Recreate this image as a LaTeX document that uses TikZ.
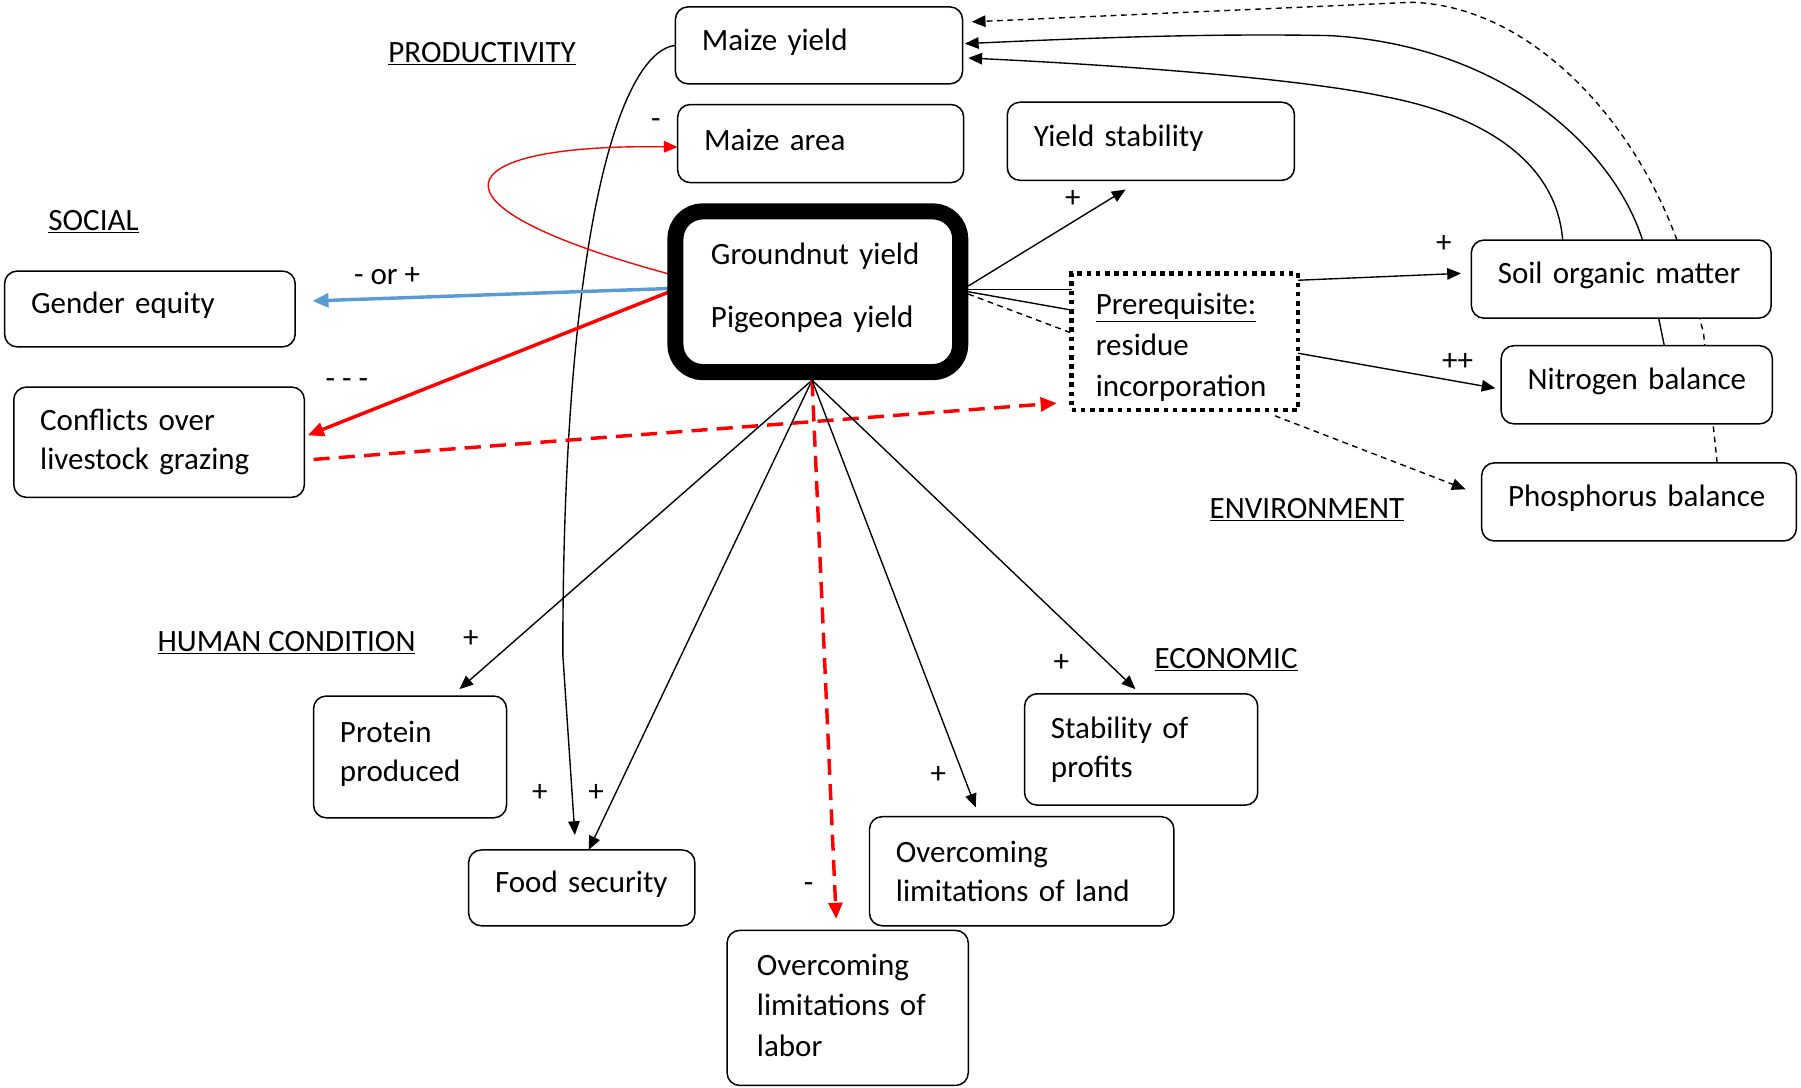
\documentclass[tikz,border=0pt]{standalone}
\usepackage{fontspec}
\setmainfont{Carlito}
\usetikzlibrary{arrows.meta}
\pgfdeclarelayer{bg}
\pgfsetlayers{bg,main}
\definecolor{sblue}{RGB}{91,155,213}
\newcommand\myfont{\fontsize{27}{34}\selectfont\hyphenpenalty=10000}
\newcommand\up[1]{\raisebox{3pt}[\height][\depth]{#1}}
\newcommand\dn[1]{\raisebox{-5pt}[\height][\depth]{#1}}
\begin{document}
\begin{tikzpicture}[x=1pt,y=-1pt,
  every node/.style={font=\myfont},
  box/.style={draw, rounded corners=11pt, line width=1.3pt, fill=white, anchor=north west, outer sep=0pt, inner xsep=23pt, inner ysep=0pt, align=left},
  lbl/.style={inner sep=0pt},
  cat/.style={inner sep=0pt, anchor=base west},
  ln/.style={line width=1.2pt},
  tip/.style={-{Triangle[length=12pt,width=10pt]}},
  ttip/.style={-{Triangle[length=14pt,width=12pt]}},
  dsh/.style={dash pattern=on 5pt off 4pt},
  rdsh/.style={red, line width=3pt, dash pattern=on 14pt off 8pt},
]
\useasboundingbox (0,0) rectangle (1568,947);

% boxes
\node[box, minimum width=250pt, minimum height=67pt, text width=204pt] (my) at (588,6) {\up{\mbox{Maize yield}}};
\node[box, minimum width=249pt, minimum height=68pt, text width=203pt] (ma) at (590,91) {\up{\mbox{Maize area}}};
\node[box, minimum width=250pt, minimum height=68pt, text width=204pt] (ys) at (877,89) {\up{\mbox{Yield stability}}};
\node[box, line width=14pt, rounded corners=24pt, inner xsep=31pt, minimum width=248pt, minimum height=140pt, text width=186pt] (gp) at (588,184) {\up{Groundnut yield}\\[21pt]\up{Pigeonpea yield}};
\node[box, minimum width=253pt, minimum height=66pt, text width=207pt] (ge) at (4,236) {\up{\mbox{Gender equity}}};
\node[box, minimum width=253pt, minimum height=96pt, text width=207pt] (cl) at (12,337) {Conflicts over\\ livestock grazing};
\node[box, line width=4pt, dash pattern=on 4pt off 4pt, rounded corners=0pt, inner xsep=21pt, minimum width=197pt, minimum height=119pt, text width=155pt] (pr) at (933,238) {\dn{\underline{Prerequisite:}}\\[1.5pt] \dn{residue}\\[1.5pt] \dn{incorporation}};
\node[box, minimum width=261pt, minimum height=68pt, text width=215pt] (so) at (1281,209) {\up{\mbox{Soil organic matter}}};
\node[box, minimum width=236pt, minimum height=68pt, text width=190pt] (nb) at (1307,301) {\up{\mbox{Nitrogen balance}}};
\node[box, minimum width=274pt, minimum height=68pt, text width=228pt] (pb) at (1290,403) {\up{\mbox{Phosphorus balance}}};
\node[box, minimum width=168pt, minimum height=106pt, text width=122pt] (pp) at (273,606) {\up{Protein}\\ \up{produced}};
\node[box, minimum width=197pt, minimum height=66pt, text width=151pt] (fs) at (408,740) {\up{\mbox{Food security}}};
\node[box, minimum width=210pt, minimum height=135pt, text width=158pt, inner xsep=26pt] (ol) at (633,810) {\up{Overcoming}\\[1pt] \up{limitations of}\\ \raisebox{1pt}[\height][\depth]{labor}};
\node[box, minimum width=265pt, minimum height=95pt, text width=219pt] (oa) at (757,711) {Overcoming\\ limitations of land};
\node[box, minimum width=203pt, minimum height=97pt, text width=157pt] (sp) at (892,604) {Stability of\\ profits};

% category labels
\node[cat] (cprod) at (338,54) {\underline{PRODUCTIVITY}};
\node[cat] (csoc) at (42,201) {\underline{SOCIAL}};
\node[cat] (chum) at (137,567) {\underline{HUMAN CONDITION}};
\node[cat] (ceco) at (1005,582) {\underline{ECONOMIC}};
\node[cat] (cenv) at (1053,451) {\underline{ENVIRONMENT}};

% sign labels
\node[lbl] (s1) at (571,108) {-};
\node[lbl] (s2) at (934,173) {+};
\node[lbl] (s3) at (337,240) {- or +};
\node[lbl] (s4) at (302,334) {- - -};
\node[lbl] (s5) at (1257,212) {+};
\node[lbl] (s6) at (1269,315) {++};
\node[lbl] (s7) at (410,556) {+};
\node[lbl] (s8) at (470,690) {+};
\node[lbl] (s9) at (519,690) {+};
\node[lbl] (s10) at (817,675) {+};
\node[lbl] (s11) at (924,577) {+};
\node[lbl] (s12) at (704,773) {-};

\coordinate (gps) at ([xshift=-5pt,yshift=-7pt]gp.south);

\begin{pgfonlayer}{bg}
% maize yield -> food security
\draw[ln,tip] (my.west) .. controls (540,45) and (490,200) .. (490,570) -- ([xshift=-6pt,yshift=13pt]fs.north);
% red loop to maize area
\draw[red, line width=1.2pt, tip] ([yshift=14pt]gp.west) .. controls (355,178) and (390,125) .. ([yshift=-3pt]ma.west);
% blue to gender equity
\draw[line width=3pt, sblue, ttip] ([yshift=3pt]gp.west) -- ([xshift=15pt,yshift=7pt]ge.east);
% red thick to conflicts
\draw[red, line width=3pt, ttip] ([yshift=2pt]gp.west) -- ([xshift=3pt,yshift=6pt]cl.east);
% red dashed conflicts -> prerequisite
\draw[rdsh, ttip] ([xshift=8pt,yshift=-15pt]cl.east) -- ([xshift=-13pt,yshift=6pt]pr.south west);
% to yield stability
\draw[ln,tip] ([xshift=7pt,yshift=5pt]gp.east) -- ([xshift=-22pt,yshift=-8pt]ys.south);
% to prerequisite
\draw[ln] ([xshift=7pt,yshift=2pt]gp.east) -- ([yshift=-14pt]pr.north west);
\draw[ln] ([xshift=7pt]gp.east) -- ([yshift=-32pt]pr.north west);
\draw[ln,dsh] ([xshift=7pt,yshift=-2pt]gp.east) -- ([yshift=-52pt]pr.north west);
% prerequisite -> environment
\draw[ln,tip] ([yshift=-6pt]pr.north east) -- ([xshift=-9pt,yshift=5pt]so.west);
\draw[ln,tip] ([yshift=-10pt]pr.east) -- ([xshift=-5pt,yshift=-3pt]nb.west);
\draw[ln,dsh,tip] ([xshift=-20pt,yshift=-5pt]pr.south east) -- ([xshift=-14pt,yshift=11pt]pb.west);
% environment -> maize yield
\draw[ln,tip] ([xshift=-51pt]so.north) .. controls (1355,140) and (1290,100) .. (1205,84) .. controls (1140,70) and (1000,58) .. ([xshift=5pt,yshift=-11pt]my.east);
\draw[ln,tip] ([xshift=24pt]nb.north) -- ([xshift=18.5pt]so.north) .. controls (1405,130) and (1310,40) .. (1158,31) .. controls (1050,29) and (950,33) .. ([xshift=2pt,yshift=1.5pt]my.east);
\draw[ln,dsh,tip] ([xshift=68pt]pb.north) -- (1483,289) -- ([xshift=48.5pt]so.north) .. controls (1420,100) and (1330,5) .. (1229,2) -- ([xshift=8pt,yshift=20.5pt]my.east);
% from groundnut / pigeonpea downward
\draw[ln,tip] (gps) -- ([xshift=43pt,yshift=6pt]pp.north);
\draw[ln,tip] (gps) -- ([xshift=6pt]fs.north);
\draw[rdsh,ttip] (gps) -- ([xshift=-10pt,yshift=10pt]ol.north);
\draw[ln,tip] (gps) -- ([xshift=-40pt,yshift=8pt]oa.north);
\draw[ln,tip] (gps) -- ([xshift=-5pt,yshift=4pt]sp.north);
\end{pgfonlayer}
\end{tikzpicture}
\end{document}
